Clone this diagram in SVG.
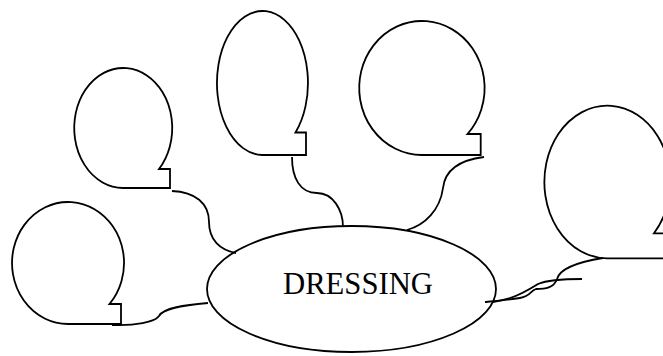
<svg xmlns="http://www.w3.org/2000/svg" width="663" height="356" viewBox="0 0 663 356">
<style>
.s{fill:none;stroke:#000;stroke-width:1.8;stroke-linejoin:miter}
.t{font-family:"Liberation Serif","Times New Roman",serif;font-size:30.7px;fill:#000}
</style>
<rect width="663" height="356" fill="#fff"/>
<g id="node-dressing">
<ellipse class="s" cx="351.5" cy="289" rx="144.5" ry="63"/>
<text class="t" x="358" y="294" text-anchor="middle">DRESSING</text>
</g>
<g id="balloon-top-left">
<path class="s" d="M123,188 A49,60 0 1 1 159,169 L170,169 L170,188 Z"/>
</g>
<g id="balloon-bottom-left">
<path class="s" d="M68,324 A56,61 0 1 1 109.5,304 L121,304 L121,324 Z"/>
</g>
<g id="balloon-top-middle">
<path class="s" d="M262,155 A45.5,72 0 1 1 295.5,132.5 L306,132.5 L306,155 Z"/>
</g>
<g id="balloon-top-right">
<path class="s" d="M421.7,155 A62.7,67 0 1 1 467.5,134 L480.7,134 L480.7,155 Z"/>
</g>
<g id="balloon-right">
<path class="s" d="M607,258.3 A63,76.3 0 1 1 654,233.3 L667,233.3 L667,258.3 Z"/>
</g>
<g id="connectors">
<path class="s" d="M172,191 C195,192 209,203 209,222 C209,240 220,250 236,253"/>
<path class="s" d="M112,325 C135,326 155,322 159,316 C163,308 185,305 208,303"/>
<path class="s" d="M292,157 C292,178 300,193 317,193 C333,193 343,210 343,227"/>
<path class="s" d="M484,157 C460,160 445,170 443,188 C440,210 425,225 407,230"/>
<path class="s" d="M603,258 C578,262 560,268 557,279 C554,288 545,289 536,289 C530,291 531,296 520,298 C508,300 496,301 485,302"/>
<path class="s" d="M582,279 C562,279 545,281 538,284 C530,289 520,295 510,298 C503,300 498,301 493,302"/>
</g>
</svg>
